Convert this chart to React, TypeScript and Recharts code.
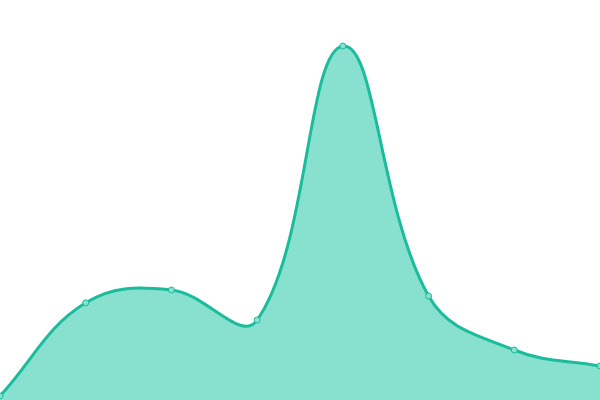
import { AreaChart, Area, XAxis, YAxis } from "recharts";

const labels = ["A", "B", "C", "D", "E", "F", "G", "H"];
const values = [1, 24.3, 27.5, 20, 88.5, 26, 12.5, 8.5];

const data = labels.map((name, i) => ({ name, value: values[i] }));

// spline like the canvas charting libs: control points from neighbours, scaled by tension
function tensionCurve(t: number, w: number, h: number) {
  return (ctx: any) => {
    let pts: [number, number][] = [];
    let line = NaN;
    const clamp = (v: number, lo: number, hi: number) => Math.max(lo, Math.min(hi, v));
    return {
      areaStart() { line = 0; },
      areaEnd() { line = NaN; },
      lineStart() { pts = []; },
      point(x: number, y: number) { pts.push([+x, +y]); },
      lineEnd() {
        const n = pts.length;
        if (n) {
          const cps = pts.map((cur, i) => {
            const prev = pts[i - 1] || cur;
            const next = pts[i + 1] || cur;
            const d01 = Math.hypot(cur[0] - prev[0], cur[1] - prev[1]);
            const d12 = Math.hypot(next[0] - cur[0], next[1] - cur[1]);
            let s01 = d01 / (d01 + d12);
            let s12 = d12 / (d01 + d12);
            if (isNaN(s01)) s01 = 0;
            if (isNaN(s12)) s12 = 0;
            const fa = t * s01;
            const fb = t * s12;
            const dx = next[0] - prev[0];
            const dy = next[1] - prev[1];
            return {
              c1: [clamp(cur[0] - fa * dx, 0, w), clamp(cur[1] - fa * dy, 0, h)],
              c2: [clamp(cur[0] + fb * dx, 0, w), clamp(cur[1] + fb * dy, 0, h)],
            };
          });
          if (line) ctx.lineTo(pts[0][0], pts[0][1]);
          else ctx.moveTo(pts[0][0], pts[0][1]);
          for (let i = 1; i < n; i++) {
            const a = cps[i - 1].c2;
            const b = cps[i].c1;
            ctx.bezierCurveTo(a[0], a[1], b[0], b[1], pts[i][0], pts[i][1]);
          }
        }
        if (line || (line !== 0 && n === 1)) ctx.closePath();
        line = 1 - line;
      },
    };
  };
}

const curve = tensionCurve(0.4, 600, 400);

export default function App() {
  return (
    <div style={{ position: "absolute", left: 0, top: 0, width: 600, height: 400, background: "#fff" }}>
      <AreaChart width={600} height={400} data={data} margin={{ top: 0, right: 0, bottom: 0, left: 0 }}>
        <XAxis dataKey="name" hide padding={{ left: 0, right: 0 }} />
        <YAxis hide domain={[0, 100]} />
        <Area
          type={curve as any}
          dataKey="value"
          stroke="#1abc9c"
          strokeWidth={3}
          fill="#88e0cf"
          fillOpacity={1}
          dot={{ r: 3, fill: "#88e0cf", stroke: "#1abc9c", strokeWidth: 1, fillOpacity: 1 }}
          activeDot={false}
          isAnimationActive={false}
        />
      </AreaChart>
    </div>
  );
}
